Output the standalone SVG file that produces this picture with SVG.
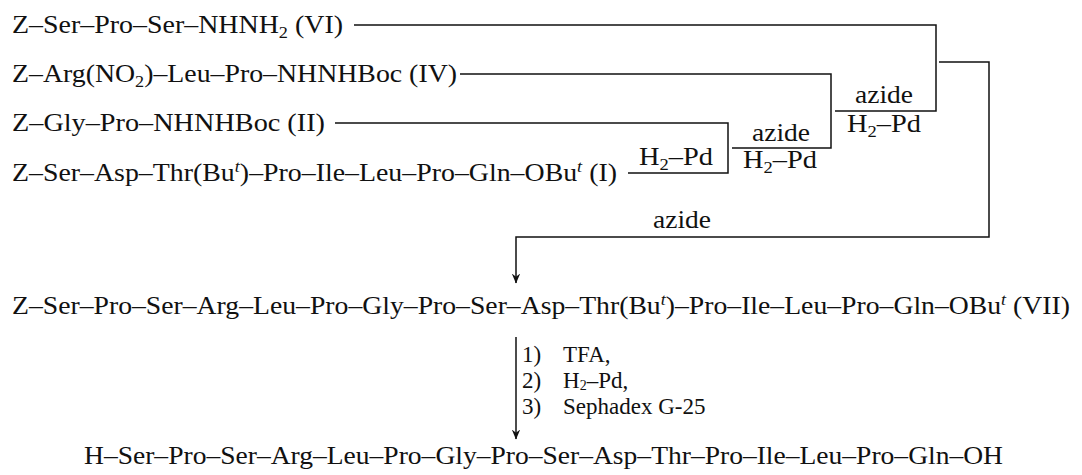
<svg xmlns="http://www.w3.org/2000/svg" width="1082" height="475" viewBox="0 0 1082 475" font-family="'Liberation Serif', 'Times New Roman', 'DejaVu Serif', serif">
<style>
text{font-family:"Liberation Serif","Times New Roman","DejaVu Serif",serif;font-size:26px;fill:#111}
.c{text-anchor:middle}
.sub{font-size:17px}
.sup{font-size:17px;font-style:italic}
.step{font-size:23px}
.ln{fill:none;stroke:#111;stroke-width:1.5}
</style>
<defs>
<marker id="arr" viewBox="0 0 10 10" refX="9.5" refY="5" markerWidth="10" markerHeight="10" markerUnits="userSpaceOnUse" orient="auto">
<path d="M0,0.8 L10,5 L0,9.2 L3.2,5 Z" fill="#111"/>
</marker>
</defs>
<rect width="1082" height="475" fill="#fff"/>

<g id="cmpd-VI"><text x="12" y="33" textLength="331" lengthAdjust="spacingAndGlyphs">Z–Ser–Pro–Ser–NHNH<tspan class="sub" dy="5">2</tspan><tspan dy="-5"> (VI)</tspan></text></g>
<g id="cmpd-IV"><text x="12" y="82" textLength="445" lengthAdjust="spacingAndGlyphs">Z–Arg(NO<tspan class="sub" dy="5">2</tspan><tspan dy="-5">)–Leu–Pro–NHNHBoc (IV)</tspan></text></g>
<g id="cmpd-II"><text x="12" y="131" textLength="313" lengthAdjust="spacingAndGlyphs">Z–Gly–Pro–NHNHBoc (II)</text></g>
<g id="cmpd-I"><text x="12" y="181" textLength="605" lengthAdjust="spacingAndGlyphs">Z–Ser–Asp–Thr(Bu<tspan class="sup" dy="-9">t</tspan><tspan dy="9">)–Pro–Ile–Leu–Pro–Gln–OBu</tspan><tspan class="sup" dy="-9">t</tspan><tspan dy="9"> (I)</tspan></text></g>
<g id="cmpd-VII"><text x="12" y="314" textLength="1058" lengthAdjust="spacingAndGlyphs">Z–Ser–Pro–Ser–Arg–Leu–Pro–Gly–Pro–Ser–Asp–Thr(Bu<tspan class="sup" dy="-9">t</tspan><tspan dy="9">)–Pro–Ile–Leu–Pro–Gln–OBu</tspan><tspan class="sup" dy="-9">t</tspan><tspan dy="9"> (VII)</tspan></text></g>
<g id="product"><text x="84" y="464" textLength="919" lengthAdjust="spacingAndGlyphs">H–Ser–Pro–Ser–Arg–Leu–Pro–Gly–Pro–Ser–Asp–Thr–Pro–Ile–Leu–Pro–Gln–OH</text></g>

<g id="connectors">
<path class="ln" d="M335,123 H728 V173 H628"/>
<path class="ln" d="M460,74 H831 V148 H732"/>
<path class="ln" d="M354,25 H936 V111 H835"/>
<path class="ln" d="M939,62 H989 V237 H516 V283" marker-end="url(#arr)"/>
<path class="ln" d="M516,337 V439" marker-end="url(#arr)"/>
</g>

<g id="labels">
<text class="c" x="676" y="165" textLength="74" lengthAdjust="spacingAndGlyphs">H<tspan class="sub" dy="5">2</tspan><tspan dy="-5">–Pd</tspan></text>
<text class="c" x="781" y="141" textLength="58" lengthAdjust="spacingAndGlyphs">azide</text>
<text class="c" x="780" y="168" textLength="74" lengthAdjust="spacingAndGlyphs">H<tspan class="sub" dy="5">2</tspan><tspan dy="-5">–Pd</tspan></text>
<text class="c" x="884" y="103" textLength="58" lengthAdjust="spacingAndGlyphs">azide</text>
<text class="c" x="884" y="132" textLength="74" lengthAdjust="spacingAndGlyphs">H<tspan class="sub" dy="5">2</tspan><tspan dy="-5">–Pd</tspan></text>
<text class="c" x="682" y="228" textLength="58" lengthAdjust="spacingAndGlyphs">azide</text>
<text class="step" x="522" y="362">1)<tspan x="563">TFA,</tspan></text>
<text class="step" x="522" y="388">2)<tspan x="563">H</tspan><tspan dy="2" font-size="14">2</tspan><tspan dy="-2">–Pd,</tspan></text>
<text class="step" x="522" y="414">3)<tspan x="563">Sephadex G-25</tspan></text>
</g>
</svg>
